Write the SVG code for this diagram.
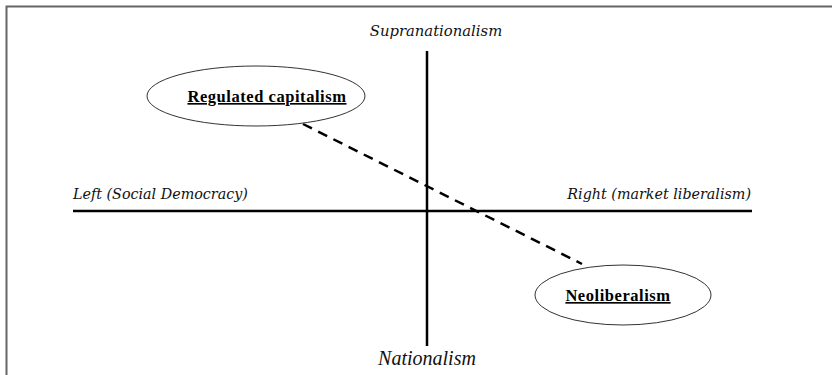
<svg xmlns="http://www.w3.org/2000/svg" width="832" height="375" viewBox="0 0 832 375">
<style>
.axis{stroke:#000;stroke-width:2.5;fill:none}
.ell{fill:#fff;stroke:#333;stroke-width:1}
.lbl{font-family:"DejaVu Serif",serif;font-style:italic;font-size:14.3px;fill:#111}
.node{font-family:"Liberation Serif",serif;font-weight:bold;font-size:16.5px;letter-spacing:0.55px;fill:#000;text-decoration:underline}
</style>
<rect width="832" height="375" fill="#fff"/>
<path d="M6.5 375V6.5H832" stroke="#666" stroke-width="2" fill="none"/>
<g id="axes">
<line class="axis" x1="427" y1="51" x2="427" y2="346"/>
<line class="axis" x1="73" y1="211" x2="752" y2="211"/>
</g>
<g id="connectors">
<line x1="303" y1="124" x2="582" y2="264" stroke="#000" stroke-width="2.5" stroke-dasharray="10,7"/>
</g>
<g id="regulated">
<ellipse class="ell" cx="256" cy="96" rx="109" ry="30"/>
<text class="node" x="267" y="102" text-anchor="middle">Regulated capitalism</text>
</g>
<g id="neoliberalism">
<ellipse class="ell" cx="623" cy="295" rx="88" ry="30"/>
<text class="node" x="618" y="301" text-anchor="middle">Neoliberalism</text>
</g>
<text class="lbl" x="436" y="36" text-anchor="middle" style="font-size:14.8px">Supranationalism</text>
<text class="lbl" x="73" y="199">Left (Social Democracy)</text>
<text class="lbl" x="751" y="199" text-anchor="end">Right (market liberalism)</text>
<text x="427" y="365" text-anchor="middle" font-family="Liberation Serif,serif" font-style="italic" font-size="20" fill="#111">Nationalism</text>
</svg>
